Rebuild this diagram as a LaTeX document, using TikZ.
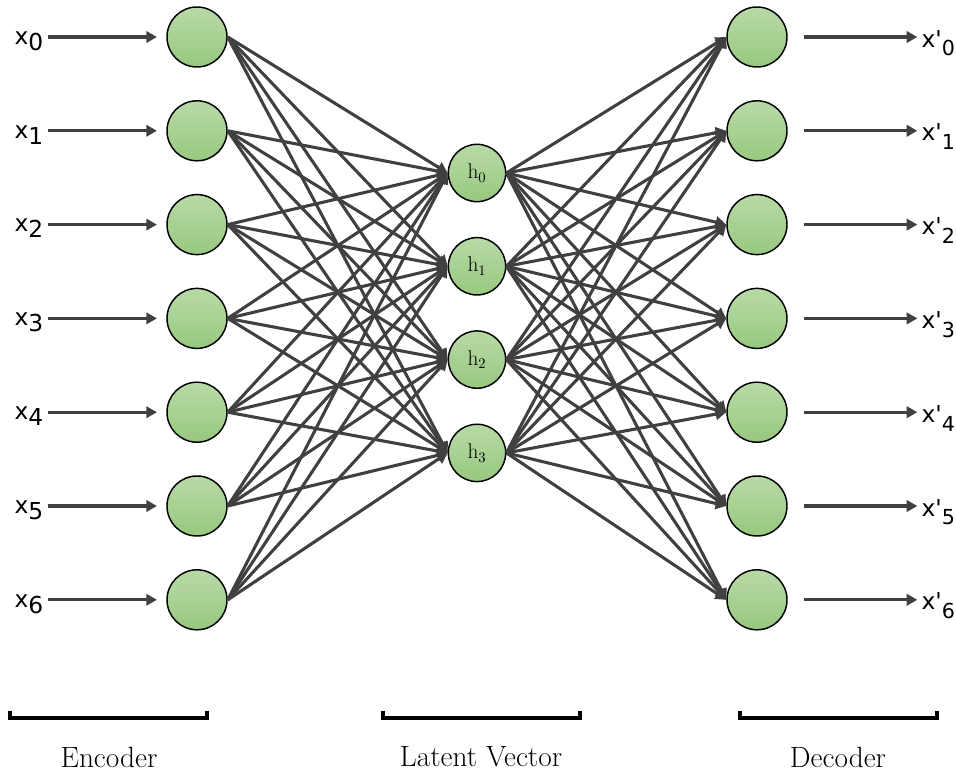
\documentclass[tikz,border=0pt]{standalone}
\usepackage{fontspec}
\newfontfamily\varfont{DejaVu Sans}
\usetikzlibrary{arrows.meta}

\definecolor{cellTop}{RGB}{184,218,166}
\definecolor{cellBot}{RGB}{152,200,128}
\definecolor{linkGray}{RGB}{64,64,64}

% label with lowered index
\newcommand{\inlbl}[1]{{\varfont x\raisebox{-4.5pt}{#1}}}
\newcommand{\outlbl}[1]{{\varfont x\textquotesingle\raisebox{-6.5pt}{\fontsize{15.5}{15.5}\selectfont #1}}}

\tikzset{
  neuron/.style={circle, draw=black, line width=1.1pt, top color=cellTop,
    bottom color=cellBot, minimum size=45pt, inner sep=0pt},
  latent/.style={neuron, minimum size=43pt, font=\fontsize{16}{16}\selectfont},
  link/.style={draw=linkGray, line width=2.3pt, -{Triangle[length=8pt,width=8.5pt]}},
  var/.style={font=\fontsize{17.5}{17.5}\selectfont, inner sep=1pt},
  bracket/.style={line width=2.3pt, black},
  part/.style={font=\fontsize{22}{22}\selectfont}
}

\begin{document}
\begin{tikzpicture}[x=0.75pt, y=-0.75pt]
  \useasboundingbox (0,0) rectangle (956,773);

  % encoder, decoder and their labels
  \foreach \i in {0,...,6} {
    \pgfmathsetmacro{\yy}{37+93.8*\i}
    \node[neuron] (e\i) at (197,\yy) {};
    \node[neuron] (d\i) at (757,\yy) {};
    \node[var, anchor=west] (x\i) at (13,\yy+4) {\inlbl{\i}};
    \node[var, anchor=west] (y\i) at (920,\yy+6) {\outlbl{\i}};
    \draw[link, shorten <=2pt, shorten >=7pt] (x\i.east |- e\i) -- (e\i);
    \draw[link, shorten <=12pt, shorten >=2pt] (d\i) -- (y\i.west |- d\i);
  }

  % latent vector
  \foreach \j in {0,...,3} {
    \pgfmathsetmacro{\yy}{173+93.3*\j}
    \node[latent] (h\j) at (477,\yy) {$\mathrm{h}_{\j}$};
  }

  % fully connected layers
  \foreach \i in {0,...,6}
    \foreach \j in {0,...,3} {
      \draw[link] (e\i.east) -- (h\j.west);
      \draw[link] (h\j.east) -- (d\i.west);
    }

  % brackets
  \draw[bracket] (10,711) |- (207,718) -- (207,711);
  \draw[bracket] (383,711) |- (580,718) -- (580,711);
  \draw[bracket] (740,711) |- (937,718) -- (937,711);
  \node[part] (enc) at (109,757) {Encoder};
  \node[part] (lat) at (481,757) {Latent Vector};
  \node[part] (dec) at (838,757) {Decoder};
\end{tikzpicture}
\end{document}
